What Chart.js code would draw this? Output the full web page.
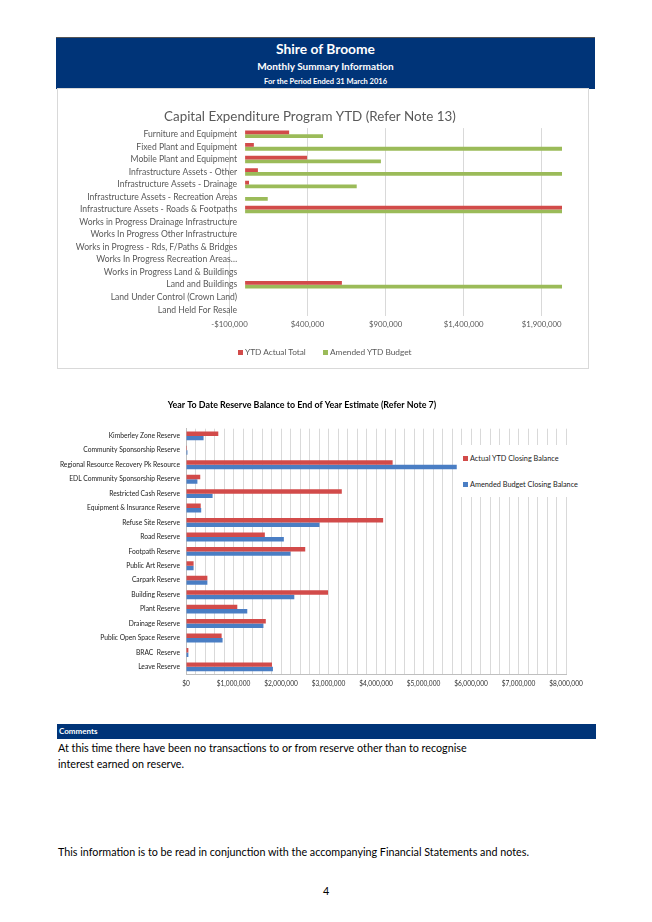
<!DOCTYPE html>
<html>
<head>
<meta charset="utf-8">
<script src="https://cdn.jsdelivr.net/npm/chart.js@4.4.1/dist/chart.umd.min.js"></script>
<style>
  body { margin: 0; background: #fff; font-family: Lato, sans-serif; }
  #page { position: relative; width: 652px; height: 922px; overflow: hidden; }
  .band { position: absolute; background: #003478; color: #fff; font-weight: bold; }
  #header { left: 56px; top: 37px; width: 539px; height: 51px; text-align: center; border-top: 1px solid #555; }
  #header div { position: absolute; left: 0; right: 0; }
  #capBox { position: absolute; left: 57px; top: 88px; width: 530px; height: 279px; border: 1px solid #d9d9d9; }
  .capLegend { position: absolute; top: 347px; font-size: 8.3px; color: #595959; white-space: nowrap; }
  #resBox { position: absolute; left: 0; top: 392px; width: 604px; height: 312px; }
  #resLegend { position: absolute; left: 457px; top: 445px; width: 138px; height: 52px; background: #fff; font-size: 7.3px; color: #222; white-space: nowrap; }
  span.sw { display: inline-block; width: 5px; height: 5px; margin-right: 2px; vertical-align: 0px; }
  #comments { left: 57px; top: 724px; width: 539px; height: 15px; font-size: 8px; line-height: 15px; padding-left: 2px; box-sizing: border-box; }
  .txt { position: absolute; left: 58px; font-size: 10.75px; color: #000; line-height: 16px; }
</style>
</head>
<body>
<div id="page">
  <div id="header" class="band">
    <div style="top:2px;font-size:13.8px;">Shire of Broome</div>
    <div style="top:22px;font-size:10px;">Monthly Summary Information</div>
    <div style="top:39px;font-size:7.5px;">For the Period Ended 31 March 2016</div>
  </div>

  <div id="capBox"><canvas id="capChart"></canvas></div>
  <div class="capLegend" style="left:238px;"><span class="sw" style="background:#D24B4A"></span>YTD Actual Total</div>
  <div class="capLegend" style="left:323px;"><span class="sw" style="background:#9BBB59"></span>Amended YTD Budget</div>

  <div id="resBox"><canvas id="resChart"></canvas></div>
  <div id="resLegend">
    <div style="position:absolute;left:6px;top:9px;"><span class="sw" style="background:#D24B4A"></span>Actual YTD Closing Balance</div>
    <div style="position:absolute;left:6px;top:35px;"><span class="sw" style="background:#4A7EC4"></span>Amended Budget Closing Balance</div>
  </div>

  <div id="comments" class="band">Comments</div>
  <div class="txt" style="top:740px;">At this time there have been no transactions to or from reserve other than to recognise<br>interest earned on reserve.</div>
  <div class="txt" style="top:844px;">This information is to be read in conjunction with the accompanying Financial Statements and notes.</div>
  <div class="txt" style="top:883px;left:323px;">4</div>
</div>

<script>
const capCategories = [
  "Furniture and Equipment",
  "Fixed Plant and Equipment",
  "Mobile Plant and Equipment",
  "Infrastructure Assets - Other",
  "Infrastructure Assets - Drainage",
  "Infrastructure Assets - Recreation Areas",
  "Infrastructure Assets - Roads & Footpaths",
  "Works in Progress Drainage Infrastructure",
  "Works In Progress Other Infrastructure",
  "Works in Progress - Rds, F/Paths & Bridges",
  "Works In Progress Recreation Areas\u2026",
  "Works in Progress Land & Buildings",
  "Land and Buildings",
  "Land Under Control (Crown Land)",
  "Land Held For Resale"
]
// values beyond the axis end are clipped in the original too
const capActual = [282000, 56000, 397000, 82000, 25000, 0, 2300000, 0, 0, 0, 0, 0, 620000, 0, 0]
const capBudget = [499000, 2400000, 870000, 2250000, 715000, 145000, 2600000, 0, 0, 0, 0, 0, 2150000, 0, 0]
const capTicks = [-100000, 400000, 900000, 1400000, 1900000]

const resCategories = [
  "Kimberley Zone Reserve",
  "Community Sponsorship Reserve",
  "Regional Resource Recovery Pk Resource",
  "EDL Community Sponsorship Reserve",
  "Restricted Cash Reserve",
  "Equipment & Insurance Reserve",
  "Refuse Site Reserve",
  "Road Reserve",
  "Footpath Reserve",
  "Public Art Reserve",
  "Carpark Reserve",
  "Building Reserve",
  "Plant Reserve",
  "Drainage Reserve",
  "Public Open Space Reserve",
  "BRAC  Reserve",
  "Leave Reserve"
]
const resActual = [680000, 20000, 4350000, 300000, 3280000, 310000, 4150000, 1660000, 2510000, 160000, 450000, 2990000, 1080000, 1680000, 750000, 50000, 1810000]
const resBudget = [370000, 30000, 5700000, 240000, 560000, 320000, 2810000, 2060000, 2200000, 160000, 450000, 2280000, 1290000, 1630000, 770000, 50000, 1830000]

const money = (v) => (v < 0 ? '-$' : '$') + Math.abs(v).toLocaleString('en-US')

// category names sit next to the $0 crossing, like the spreadsheet does
const labelsAtZero = {
  id: 'labelsAtZero',
  afterDraw(chart) {
    const { ctx, scales: { x, y } } = chart
    const right = x.getPixelForValue(0) - 8
    ctx.save()
    ctx.font = '8.6px Lato'
    ctx.fillStyle = '#595959'
    ctx.textAlign = 'right'
    ctx.textBaseline = 'middle'
    chart.data.labels.forEach((label, i) => ctx.fillText(label, right, y.getPixelForTick(i)))
    ctx.restore()
  }
}

new Chart(document.getElementById('capChart'), {
  type: 'bar',
  data: {
    labels: capCategories,
    datasets: [
      { label: 'YTD Actual Total', data: capActual, backgroundColor: '#D24B4A', categoryPercentage: 0.6, barPercentage: 1 },
      { label: 'Amended YTD Budget', data: capBudget, backgroundColor: '#9BBB59', categoryPercentage: 0.6, barPercentage: 1 }
    ]
  },
  options: {
    indexAxis: 'y',
    animation: false,
    responsive: true,
    maintainAspectRatio: false,
    layout: { padding: { left: 0, right: 26, top: 0, bottom: 0 } },
    plugins: {
      title: {
        display: true,
        text: 'Capital Expenditure Program YTD (Refer Note 13)',
        color: '#595959',
        font: { family: 'Lato', size: 13.4, weight: 'normal' },
        padding: { top: 20, bottom: 3 }
      },
      legend: { display: false },
      tooltip: { enabled: false }
    },
    scales: {
      x: {
        min: -100000,
        max: 2030000,
        grid: { color: '#d9d9d9', drawTicks: false },
        border: { display: false },
        afterBuildTicks: (scale) => { scale.ticks = capTicks.map((v) => ({ value: v })) },
        ticks: { callback: money, color: '#595959', font: { family: 'Lato', size: 7.8 }, padding: 4 },
        afterFit: (scale) => { scale.height = 52 }
      },
      y: {
        grid: { display: false, drawTicks: false },
        border: { display: false },
        ticks: { display: false },
        afterFit: (scale) => { scale.width = 171.5 }
      }
    }
  },
  plugins: [labelsAtZero]
})

new Chart(document.getElementById('resChart'), {
  type: 'bar',
  data: {
    labels: resCategories,
    datasets: [
      { label: 'Actual YTD Closing Balance', data: resActual, backgroundColor: '#D24B4A', categoryPercentage: 0.62, barPercentage: 1 },
      { label: 'Amended Budget Closing Balance', data: resBudget, backgroundColor: '#4A7EC4', categoryPercentage: 0.62, barPercentage: 1 }
    ]
  },
  options: {
    indexAxis: 'y',
    animation: false,
    responsive: true,
    maintainAspectRatio: false,
    layout: { padding: { left: 38, right: 38, top: 0, bottom: 10 } },
    plugins: {
      title: {
        display: true,
        text: 'Year To Date Reserve Balance to End of Year Estimate (Refer Note 7)',
        color: '#000',
        font: { family: 'Lato', size: 8.9, weight: 'bold' },
        padding: { top: 8, bottom: 18 }
      },
      legend: { display: false },
      tooltip: { enabled: false }
    },
    scales: {
      x: {
        min: 0,
        max: 8000000,
        grid: { color: '#d9d9d9', drawTicks: false },
        border: { display: true, color: '#bfbfbf' },
        ticks: {
          stepSize: 200000,
          autoSkip: false,
          maxRotation: 0,
          color: '#333',
          font: { family: 'Lato', size: 6.6 },
          padding: 6,
          callback: (v) => (v % 1000000 === 0 ? money(v) : '')
        }
      },
      y: {
        grid: { display: false, drawTicks: false },
        border: { display: true, color: '#bfbfbf' },
        ticks: { color: '#222', font: { family: 'Lato', size: 6.7 }, padding: 6, autoSkip: false },
        afterFit: (scale) => { scale.width = 148 }
      }
    }
  }
})
</script>
</body>
</html>
